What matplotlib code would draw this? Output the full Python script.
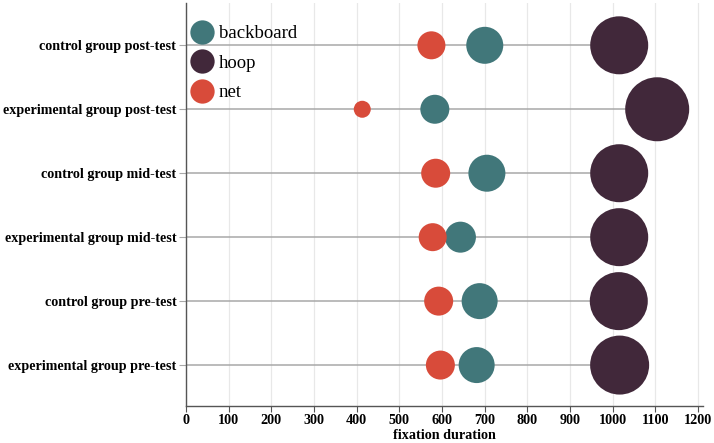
import numpy as np
import matplotlib.pyplot as plt

# rows, top to bottom
groups = ["control group post-test", "experimental group post-test",
          "control group mid-test", "experimental group mid-test",
          "control group pre-test", "experimental group pre-test"]

# fixation duration per area of interest
backboard = [700, 583, 705, 643, 688, 681]
hoop = [1015, 1104, 1015, 1015, 1014, 1016]
net = [575, 413, 585, 578, 592, 596]

# bubble weight (read as bubble diameter in the picture)
backboard_w = [37, 29, 37, 31, 36, 36]
hoop_w = [58, 64, 58, 58, 58, 59]
net_w = [28, 17, 29, 28, 29, 29]

colors = {"backboard": "#41777a", "hoop": "#41283a", "net": "#d84b3a"}

plt.rcParams['font.family'] = 'serif'
plt.rcParams['font.serif'] = ['Liberation Serif']

fig = plt.figure(figsize=(7.14, 4.43), dpi=100)
ax = fig.add_axes([0.2605, 0.0835, 0.7245, 0.9095])

y = np.arange(len(groups))
rowmax = np.max([backboard, hoop, net], axis=0)
ax.hlines(y, 0, rowmax, color="#a8a8a8", lw=1.1, zorder=1)

def size(d):
    return (np.array(d) * 0.72) ** 2

for name, vals, w in [("backboard", backboard, backboard_w),
                      ("hoop", hoop, hoop_w),
                      ("net", net, net_w)]:
    ax.scatter(vals, y, s=size(w), color=colors[name], lw=0, zorder=3)

ax.set_xlim(0, 1212)
ax.set_ylim(len(groups) - 1 + 0.64, -0.66)
ax.set_xticks(np.arange(0, 1201, 100))
ax.set_yticks(y)
ax.set_yticklabels(groups, fontweight="bold", fontsize=10.2)
for t in ax.get_xticklabels():
    t.set_fontweight("bold")
    t.set_fontsize(10.2)
ax.set_xlabel("fixation duration", fontweight="bold", fontsize=10.2, labelpad=1)

ax.grid(axis="x", color="#e8e8e8", lw=0.9, zorder=0)
ax.set_axisbelow(True)
for s in ["top", "right"]:
    ax.spines[s].set_visible(False)
for s in ["left", "bottom"]:
    ax.spines[s].set_color("#555555")
    ax.spines[s].set_linewidth(1.0)
ax.tick_params(axis="x", length=4, color="#555555", pad=2)
ax.tick_params(axis="y", length=5, color="#a8a8a8", pad=2)

handles = [plt.Line2D([], [], marker="o", ls="", ms=17.5, mec="none",
                      color=colors[k]) for k in ["backboard", "hoop", "net"]]
ax.legend(handles, ["backboard", "hoop", "net"], loc="upper left",
          bbox_to_anchor=(0.0, 0.962), frameon=False, fontsize=13.5,
          handlelength=1.0, handletextpad=0.4, labelspacing=0.66,
          borderpad=0.15, borderaxespad=0.2)

fig.savefig("out.png", dpi=100)
